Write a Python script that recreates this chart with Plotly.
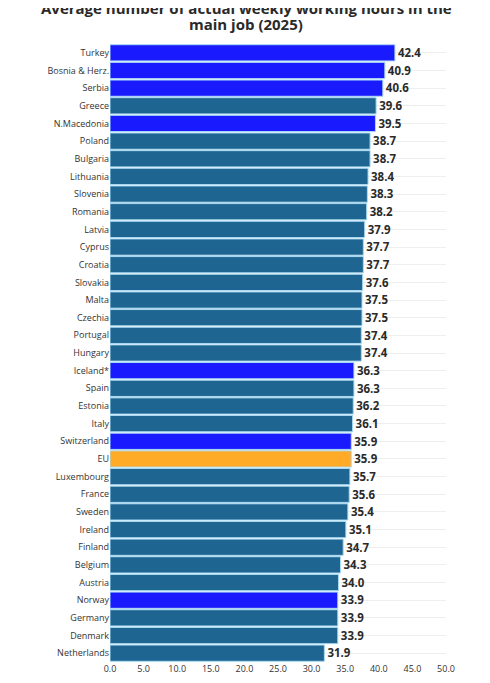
import plotly.graph_objects as go

# data, top to bottom as shown
countries = [
    'Turkey', 'Bosnia & Herz.', 'Serbia', 'Greece', 'N.Macedonia', 'Poland',
    'Bulgaria', 'Lithuania', 'Slovenia', 'Romania', 'Latvia', 'Cyprus',
    'Croatia', 'Slovakia', 'Malta', 'Czechia', 'Portugal', 'Hungary',
    'Iceland*', 'Spain', 'Estonia', 'Italy', 'Switzerland', 'EU',
    'Luxembourg', 'France', 'Sweden', 'Ireland', 'Finland', 'Belgium',
    'Austria', 'Norway', 'Germany', 'Denmark', 'Netherlands']
hours = [
    42.4, 40.9, 40.6, 39.6, 39.5, 38.7,
    38.7, 38.4, 38.3, 38.2, 37.9, 37.7,
    37.7, 37.6, 37.5, 37.5, 37.4, 37.4,
    36.3, 36.3, 36.2, 36.1, 35.9, 35.9,
    35.7, 35.6, 35.4, 35.1, 34.7, 34.3,
    34.0, 33.9, 33.9, 33.9, 31.9]
non_eu = ['Turkey', 'Bosnia & Herz.', 'Serbia', 'N.Macedonia',
          'Iceland*', 'Switzerland', 'Norway']
x_ticks = [0, 5, 10, 15, 20, 25, 30, 35, 40, 45, 50]
title_lines = ['Average number of actual weekly working hours in the',
               'main job (2025)']

BLUE = '#1a1aff'
TEAL = '#1f6591'
ORANGE = '#ffab27'

colors = []
for c in countries:
    if c == 'EU':
        colors.append(ORANGE)
    elif c in non_eu:
        colors.append(BLUE)
    else:
        colors.append(TEAL)

fig = go.Figure()
fig.add_trace(go.Bar(
    x=hours,
    y=countries,
    orientation='h',
    marker=dict(color=colors, line=dict(color='#a9d9f2', width=1)),
    text=[f'{v:.1f}' for v in hours],
    textposition='outside',
    cliponaxis=False,
    textfont=dict(family='Open Sans', size=12, color='#2a2a2a', weight='bold'),
    width=0.92,
))

# title as two lines, centred on the page, spaced tighter than the default
for line, ypos in zip(title_lines, [1.058, 1.032]):
    fig.add_annotation(
        text=f'<b>{line}</b>', xref='paper', yref='paper',
        x=0.405, y=ypos, xanchor='center', yanchor='middle', showarrow=False,
        font=dict(family='Open Sans', size=15, color='#2a2a2a'),
    )

fig.update_layout(
    width=490, height=683,
    font=dict(family='Open Sans', size=9, color='#333333'),
    margin=dict(l=102, r=52, t=36, b=29),
    plot_bgcolor='white',
    paper_bgcolor='white',
    showlegend=False,
    bargap=0.08,
)
fig.update_xaxes(
    range=[0, 50], tickvals=x_ticks,
    ticktext=[f'{t:.1f}' for t in x_ticks],
    showgrid=False, zeroline=False,
    tickfont=dict(size=9),
)
fig.update_yaxes(
    autorange='reversed',
    showgrid=True, gridcolor='#eeeeee', gridwidth=1,
    ticks='', ticklen=0,
    tickfont=dict(size=9),
)

fig.write_html('out.html')
